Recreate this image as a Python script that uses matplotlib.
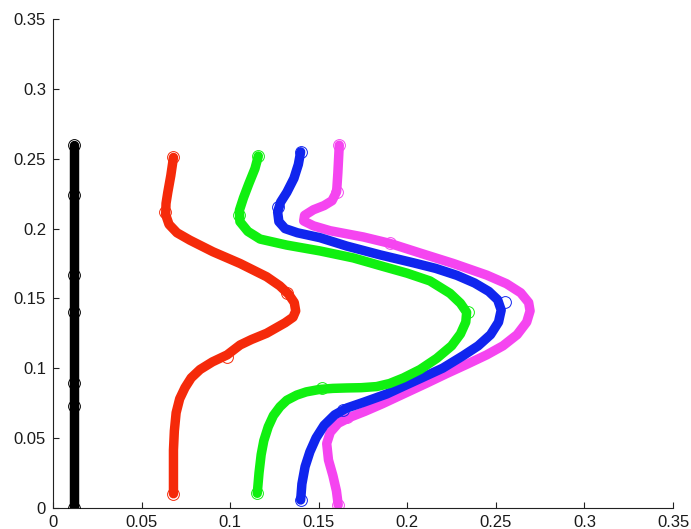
import matplotlib
matplotlib.use("Agg")
import matplotlib.pyplot as plt

# ---- data ----
black_x = [0.012, 0.012, 0.012, 0.012, 0.012, 0.012, 0.012]
black_y = [0.0, 0.073, 0.089, 0.140, 0.167, 0.224, 0.260]
black_mx = black_x
black_my = black_y

red_x = [0.068, 0.0665, 0.0648, 0.0638, 0.0636, 0.0655, 0.0700, 0.0773, 0.0903, 0.1056,
         0.1206, 0.128, 0.133, 0.1362, 0.137, 0.1355, 0.131, 0.1206, 0.112, 0.1056,
         0.0983, 0.090, 0.083, 0.078, 0.0745, 0.0715, 0.0695, 0.0685, 0.068, 0.068, 0.068]
red_y = [0.251, 0.238, 0.226, 0.218, 0.210, 0.203, 0.197, 0.1917, 0.1834, 0.175,
         0.1655, 0.159, 0.153, 0.147, 0.141, 0.1365, 0.1325, 0.125, 0.1205, 0.1166,
         0.1095, 0.1045, 0.0990, 0.0930, 0.0860, 0.0780, 0.0680, 0.0550, 0.0413, 0.025, 0.010]
red_mx = [0.068, 0.0632, 0.132, 0.0983, 0.068]
red_my = [0.251, 0.212, 0.1536, 0.1077, 0.010]

green_x = [0.1159, 0.1140, 0.1105, 0.1075, 0.1052, 0.1055, 0.1100, 0.1169, 0.1319, 0.1507,
           0.1695, 0.186, 0.200, 0.2128, 0.2241, 0.2300, 0.2335, 0.2330, 0.2300, 0.2250,
           0.2166, 0.2072, 0.1978, 0.1900, 0.1827, 0.1740, 0.1658, 0.1580, 0.1507, 0.1430,
           0.1376, 0.1320, 0.1281, 0.1244, 0.1215, 0.1190, 0.1175, 0.1163, 0.1153]
green_y = [0.252, 0.243, 0.232, 0.222, 0.213, 0.205, 0.198, 0.1925, 0.1882, 0.1840,
           0.1790, 0.1730, 0.1680, 0.1625, 0.1536, 0.1465, 0.140, 0.133, 0.1245, 0.1160,
           0.1070, 0.0990, 0.0930, 0.0890, 0.0868, 0.0860, 0.0858, 0.0855, 0.0848, 0.0830,
           0.0807, 0.0770, 0.0723, 0.0660, 0.0580, 0.0480, 0.0380, 0.0250, 0.0103]
green_mx = [0.1159, 0.1050, 0.2345, 0.1517, 0.1153]
green_my = [0.252, 0.2097, 0.1404, 0.0855, 0.0103]

blue_x = [0.1398, 0.1385, 0.1360, 0.1320, 0.1285, 0.1268, 0.1275, 0.1310, 0.1380, 0.1507,
          0.1658, 0.1846, 0.2034, 0.2160, 0.2280, 0.2380, 0.2460, 0.2510, 0.2530, 0.2515,
          0.2470, 0.2400, 0.2316, 0.2200, 0.2072, 0.1960, 0.1884, 0.1752, 0.1660, 0.1590,
          0.1530, 0.1485, 0.1450, 0.1423, 0.1405, 0.1398]
blue_y = [0.255, 0.246, 0.236, 0.226, 0.219, 0.212, 0.205, 0.200, 0.1970, 0.1935,
          0.1875, 0.1812, 0.1755, 0.1715, 0.1665, 0.1610, 0.1550, 0.1490, 0.1416, 0.1330,
          0.1240, 0.1160, 0.1090, 0.1000, 0.0925, 0.0860, 0.0815, 0.0755, 0.0715, 0.0665,
          0.0590, 0.0500, 0.0400, 0.0294, 0.0170, 0.0055]
blue_mx = [0.1398, 0.1272, 0.2552, 0.1639, 0.1398]
blue_my = [0.255, 0.2156, 0.1476, 0.070, 0.0055]

mag_x = [0.1616, 0.1612, 0.1608, 0.1601, 0.1575, 0.1530, 0.1470, 0.1420, 0.1415, 0.1470,
         0.1564, 0.1752, 0.1902, 0.2072, 0.2260, 0.2448, 0.2560, 0.2640, 0.2685, 0.2693,
         0.2674, 0.2620, 0.2540, 0.2448, 0.2340, 0.2220, 0.2110, 0.1978, 0.1860, 0.1760,
         0.1680, 0.1610, 0.1565, 0.1545, 0.1555, 0.1580, 0.1600, 0.1610]
mag_y = [0.2598, 0.250, 0.240, 0.2264, 0.2200, 0.2165, 0.2135, 0.2095, 0.2055, 0.2020,
         0.1985, 0.1940, 0.1894, 0.1825, 0.1750, 0.1667, 0.1605, 0.1540, 0.1470, 0.1410,
         0.1330, 0.1240, 0.1160, 0.1095, 0.1030, 0.0960, 0.0893, 0.0815, 0.0745, 0.0690,
         0.0650, 0.0605, 0.0540, 0.0460, 0.0342, 0.0230, 0.0120, 0.002]
mag_mx = [0.1616, 0.1601, 0.1902, 0.1658, 0.161]
mag_my = [0.2598, 0.2264, 0.1894, 0.0652, 0.002]

ticks = [0, 0.05, 0.1, 0.15, 0.2, 0.25, 0.3, 0.35]
tick_labels = ["0", "0.05", "0.1", "0.15", "0.2", "0.25", "0.3", "0.35"]

# ---- figure ----
plt.rcParams['font.family'] = ['Liberation Sans', 'DejaVu Sans']
fig = plt.figure(figsize=(6.91, 5.29), dpi=100)
ax = fig.add_axes([0.0767, 0.0403, 0.8973, 0.9232])

series = [
    (mag_x, mag_y, mag_mx, mag_my, '#f545f0', 2),
    (blue_x, blue_y, blue_mx, blue_my, '#1025ee', 3),
    (green_x, green_y, green_mx, green_my, '#10f010', 4),
    (red_x, red_y, red_mx, red_my, '#f52a0a', 5),
    (black_x, black_y, black_mx, black_my, '#000000', 6),
]
for xs, ys, mx, my, col, z in series:
    ax.plot(xs, ys, color=col, lw=6.8, solid_capstyle='round',
            solid_joinstyle='round', zorder=z)
    ax.plot(mx, my, linestyle='none', marker='o', markersize=8.5,
            markerfacecolor='none', markeredgecolor=col, markeredgewidth=0.7,
            zorder=z + 0.5)

ax.set_xlim(0, 0.35)
ax.set_ylim(0, 0.35)
ax.set_xticks(ticks)
ax.set_xticklabels(tick_labels)
ax.set_yticks(ticks)
ax.set_yticklabels(tick_labels)
ax.spines['top'].set_visible(False)
ax.spines['right'].set_visible(False)
for s in ('left', 'bottom'):
    ax.spines[s].set_linewidth(0.8)
    ax.spines[s].set_color('#222222')
ax.tick_params(direction='in', length=4, width=0.8, colors='#222222',
               labelsize=12, labelcolor='#1a1a1a', pad=5)

fig.savefig('out.png', dpi=100)
